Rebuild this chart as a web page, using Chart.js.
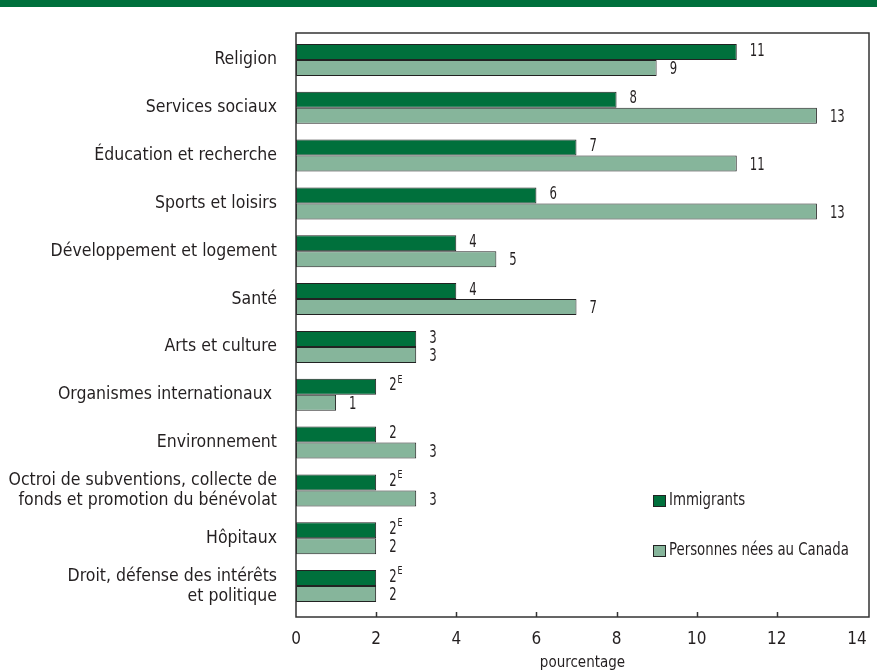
<!DOCTYPE html>
<html>
<head>
<meta charset="utf-8">
<script src="https://cdn.jsdelivr.net/npm/chart.js@4.4.1/dist/chart.umd.min.js"></script>
<style>
  html, body { margin: 0; padding: 0; background: #fff; }
</style>
</head>
<body>
<canvas id="benevolat" width="877" height="672"></canvas>
<script>
const categories = [
  'Religion',
  'Services sociaux',
  'Éducation et recherche',
  'Sports et loisirs',
  'Développement et logement',
  'Santé',
  'Arts et culture',
  'Organismes internationaux ',
  'Environnement',
  ['Octroi de subventions, collecte de', 'fonds et promotion du bénévolat'],
  'Hôpitaux',
  ['Droit, défense des intérêts', 'et politique']
];
const immigrants = [11, 8, 7, 6, 4, 4, 3, 2, 2, 2, 2, 2];
const nesAuCanada = [9, 13, 11, 13, 5, 7, 3, 1, 3, 3, 2, 2];
// E : à utiliser avec prudence
const immigrantsQualite = ['', '', '', '', '', '', '', 'E', '', 'E', 'E', 'E'];
const nesAuCanadaQualite = ['', '', '', '', '', '', '', '', '', '', '', ''];

const VERT_FONCE = '#00703c';
const VERT_PALE = '#86b59b';
const ENCRE = '#231f20';
const POLICE = '"DejaVu Sans Condensed", "Liberation Sans Narrow", sans-serif';

// bandeau vert en haut de la figure
const bandeau = {
  id: 'bandeau',
  beforeDraw(chart) {
    const c = chart.ctx;
    c.save();
    c.fillStyle = VERT_FONCE;
    c.fillRect(0, 0, chart.width, 7);
    c.restore();
  }
};

// cadre du graphique et petites graduations vers l'intérieur
const cadre = {
  id: 'cadre',
  afterDatasetsDraw(chart) {
    const c = chart.ctx, a = chart.chartArea, x = chart.scales.x;
    const haut = a.top - 3, bas = a.bottom + 7;
    c.save();
    c.strokeStyle = '#333';
    c.lineWidth = 1.5;
    c.strokeRect(a.left, haut, a.right - a.left, bas - haut);
    x.ticks.forEach(t => {
      if (t.value <= 0 || t.value >= 14) return;
      const px = Math.round(x.getPixelForValue(t.value)) + 0.5;
      c.beginPath();
      c.moveTo(px, bas);
      c.lineTo(px, bas - 5);
      c.stroke();
    });
    c.restore();
  }
};

// texte resserré horizontalement (police étroite)
function texteEtroit(c, txt, x, y, serrage) {
  c.save();
  c.translate(x, y);
  c.scale(serrage, 1);
  c.fillText(txt, 0, 0);
  c.restore();
  return c.measureText(txt).width * serrage;
}

// valeurs au bout des barres, avec l'indice de qualité en exposant
const etiquettes = {
  id: 'etiquettes',
  afterDatasetsDraw(chart) {
    const c = chart.ctx;
    const qualites = [immigrantsQualite, nesAuCanadaQualite];
    c.save();
    c.fillStyle = ENCRE;
    c.textBaseline = 'middle';
    c.textAlign = 'left';
    chart.data.datasets.forEach((ds, i) => {
      chart.getDatasetMeta(i).data.forEach((bar, j) => {
        const txt = String(ds.data[j]);
        const x = bar.x + 13;
        const y = bar.y + (i === 0 ? -1 : 1.5);
        c.font = '18px ' + POLICE;
        const w = texteEtroit(c, txt, x, y, 0.72);
        if (qualites[i][j]) {
          c.font = '11px ' + POLICE;
          texteEtroit(c, qualites[i][j], x + w + 1, y - 6, 0.8);
        }
      });
    });
    c.restore();
  }
};

// légende placée dans la zone du graphique
const legende = {
  id: 'legende',
  afterDraw(chart) {
    const c = chart.ctx;
    c.save();
    c.font = '17px ' + POLICE;
    c.textBaseline = 'middle';
    c.textAlign = 'left';
    chart.data.datasets.forEach((ds, i) => {
      const y = 501 + i * 50;
      c.fillStyle = ds.backgroundColor;
      c.fillRect(653.5, y - 5.5, 12, 11);
      c.strokeStyle = '#222';
      c.lineWidth = 1;
      c.strokeRect(653.5, y - 5.5, 12, 11);
      c.fillStyle = ENCRE;
      texteEtroit(c, ds.label, 669, y, 0.87);
    });
    c.restore();
  }
};

new Chart(document.getElementById('benevolat'), {
  type: 'bar',
  data: {
    labels: categories,
    datasets: [{
      label: 'Immigrants',
      data: immigrants,
      backgroundColor: VERT_FONCE,
      borderColor: '#222',
      borderWidth: 1,
      borderSkipped: false,
      categoryPercentage: 0.67,
      barPercentage: 1
    }, {
      label: 'Personnes nées au Canada',
      data: nesAuCanada,
      backgroundColor: VERT_PALE,
      borderColor: '#222',
      borderWidth: 1,
      borderSkipped: false,
      categoryPercentage: 0.67,
      barPercentage: 1
    }]
  },
  options: {
    indexAxis: 'y',
    responsive: false,
    animation: false,
    layout: { padding: { top: 36, right: 8, left: 0, bottom: 0 } },
    plugins: {
      legend: { display: false },
      tooltip: { enabled: false }
    },
    scales: {
      y: {
        afterFit(s) { s.width = 296; s.paddingTop = 0; s.paddingBottom = 0; },
        grid: { display: false, drawTicks: false },
        border: { display: false },
        ticks: {
          color: ENCRE,
          padding: 19,
          font: { family: POLICE, size: 17.5, lineHeight: 1.15 }
        }
      },
      x: {
        min: 0,
        max: 14.3,
        afterFit(s) { s.height = 62; s.paddingLeft = 0; s.paddingRight = 0; },
        grid: { display: false, drawTicks: false },
        border: { display: false },
        ticks: {
          stepSize: 2,
          includeBounds: false,
          color: ENCRE,
          padding: 19,
          font: { family: POLICE, size: 17 }
        },
        title: {
          display: true,
          text: 'pourcentage',
          color: ENCRE,
          font: { family: POLICE, size: 15 },
          padding: { top: 0, bottom: 0 }
        }
      }
    }
  },
  plugins: [bandeau, cadre, etiquettes, legende]
});
</script>
</body>
</html>
